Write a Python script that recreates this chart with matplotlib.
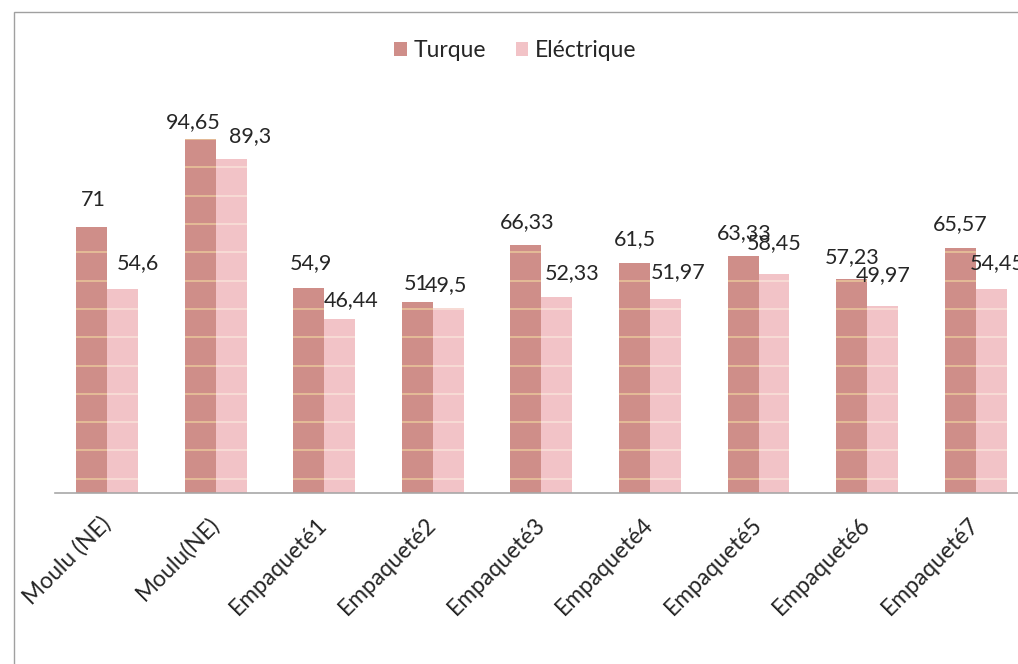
"""
Bar chart: Turque vs Eléctrique for ground and packed samples.
Output: out.png
"""

import matplotlib

matplotlib.use("Agg")

import matplotlib.pyplot as plt
import numpy as np
from matplotlib.patches import Rectangle

# ── Data ─────────────────────────────────────────────────────
categories = [
    "Moulu (NE)",
    "Moulu(NE)",
    "Empaqueté1",
    "Empaqueté2",
    "Empaqueté3",
    "Empaqueté4",
    "Empaqueté5",
    "Empaqueté6",
    "Empaqueté7",
]
turque = [71, 94.65, 54.9, 51, 66.33, 61.5, 63.33, 57.23, 65.57]
electrique = [54.6, 89.3, 46.44, 49.5, 52.33, 51.97, 58.45, 49.97, 54.45]
turque_labels = ["71", "94,65", "54,9", "51", "66,33", "61,5", "63,33", "57,23", "65,57"]
electrique_labels = ["54,6", "89,3", "46,44", "49,5", "52,33", "51,97", "58,45", "49,97", "54,45"]

# label nudges (pixels) – copied from the hand-placed labels in the original
turque_off = [(2, 27), (-7, 17), (2, 25), (-1, 18), (1, 23), (0, 24), (1, 23), (1, 22), (0, 24)]
electrique_off = [(15, 26), (19, 23), (11, 19), (-2, 23), (15, 24), (13, 26), (0, 31), (1, 31), (6, 26)]

c_turque = "#cf8e89"
c_elec = "#f2c3c7"
stripe_turque = "#e6be98"
stripe_elec = "#f8ddd6"
text_c = "#262626"

plt.rcParams["font.family"] = ["Lato", "DejaVu Sans"]

# ── Figure ───────────────────────────────────────────────────
fig = plt.figure(figsize=(10.18, 6.64), dpi=100, facecolor="white")
ax = fig.add_axes([0.054, 0.2575, 0.946, 0.5635])

x = np.arange(len(categories))
w = 0.285
bars_t = ax.bar(x - w / 2, turque, w, color=c_turque, label="Turque", zorder=2)
bars_e = ax.bar(x + w / 2, electrique, w, color=c_elec, label="Eléctrique", zorder=2)

# faint horizontal stripes inside the bars (scanned texture)
stripe_y = np.arange(3.8, 100, 7.57)
for bars, sc in ((bars_t, stripe_turque), (bars_e, stripe_elec)):
    for b in bars:
        lines = ax.hlines(
            stripe_y,
            b.get_x(),
            b.get_x() + b.get_width(),
            colors=sc,
            lw=1.3,
            zorder=3,
        )
        lines.set_clip_path(b)

for bars, labels, offs in (
    (bars_t, turque_labels, turque_off),
    (bars_e, electrique_labels, electrique_off),
):
    for b, txt, off in zip(bars, labels, offs):
        ax.annotate(
            txt,
            (b.get_x() + b.get_width() / 2, b.get_height()),
            xytext=off,
            textcoords="offset pixels",
            ha="center",
            va="center",
            fontsize=15.5,
            color=text_c,
            zorder=5,
            annotation_clip=False,
        )

# ── Axis styling ─────────────────────────────────────────────
ax.set_xlim(-0.48, 8.39)
ax.set_ylim(0, 100)
ax.set_yticks([])
for s in ("top", "right", "left"):
    ax.spines[s].set_visible(False)
ax.spines["bottom"].set_color("#a8a8a8")
ax.spines["bottom"].set_linewidth(1.2)

ax.set_xticks(x)
ax.set_xticklabels(
    categories,
    rotation=45,
    ha="right",
    va="center",
    rotation_mode="anchor",
    fontsize=16.5,
    color=text_c,
)
ax.tick_params(axis="x", length=0, pad=20)

leg = ax.legend(
    loc="center",
    bbox_to_anchor=(0.478, 1.183),
    ncol=2,
    frameon=False,
    fontsize=16.5,
    handlelength=0.55,
    handleheight=0.55,
    handletextpad=0.3,
    columnspacing=1.3,
)
for t in leg.get_texts():
    t.set_color(text_c)

# outer chart frame (only left and top edges fall inside the picture)
fig.patches.append(
    Rectangle(
        (14 / 1018, -0.1),
        1.2,
        (664 - 12) / 664 + 0.1,
        transform=fig.transFigure,
        fill=False,
        edgecolor="#a0a0a0",
        lw=1,
    )
)

fig.savefig("out.png", dpi=100, facecolor="white")
